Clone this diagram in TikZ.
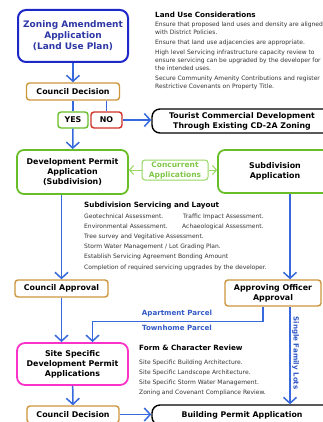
\documentclass[tikz,border=0pt]{standalone}
\usepackage{fontspec}
\setmainfont{DejaVu Sans}
\usetikzlibrary{arrows.meta}
\definecolor{flowblue}{RGB}{55,105,220}
\definecolor{zoneblue}{RGB}{30,40,200}
\definecolor{zonetext}{RGB}{45,55,165}
\definecolor{councilorange}{RGB}{205,150,60}
\definecolor{okgreen}{RGB}{105,190,40}
\definecolor{nored}{RGB}{210,50,40}
\definecolor{concgreen}{RGB}{150,215,95}
\definecolor{sitepink}{RGB}{250,50,200}
\definecolor{parceltext}{RGB}{50,90,200}
\tikzset{
    box/.style={draw, line width=1.4pt, rounded corners=3pt, align=center, inner sep=1pt, font=\fontsize{7.9}{10}\selectfont\bfseries},
    zoning/.style={box, draw=zoneblue, text=zonetext, line width=2pt, rounded corners=8pt, minimum width=110pt, minimum height=52pt, font=\fontsize{9}{11}\selectfont\bfseries},
    council/.style={box, draw=councilorange, minimum width=93pt, minimum height=17pt},
    yesbox/.style={box, draw=okgreen, minimum width=30pt, minimum height=16pt},
    nobox/.style={box, draw=nored, minimum width=31pt, minimum height=16pt},
    outbox/.style={box, draw=black, rounded corners=8pt, font=\fontsize{7.8}{10}\selectfont\bfseries},
    permit/.style={box, draw=okgreen, line width=1.8pt, rounded corners=7pt, minimum width=111pt, minimum height=44pt},
    concurrent/.style={box, draw=concgreen, text=okgreen!85, line width=1pt, minimum width=66pt, minimum height=20pt, font=\fontsize{7.5}{10}\selectfont\bfseries},
    site/.style={box, draw=sitepink, line width=1.8pt, rounded corners=8pt, minimum width=111pt, minimum height=42pt},
    % Notes
    notetitle/.style={anchor=west, inner sep=0pt, font=\fontsize{7.2}{8}\selectfont\bfseries},
    note/.style={anchor=north west, inner sep=0pt, align=left, text=black!80},
    parcel/.style={inner sep=0pt, text=parceltext, font=\fontsize{7.1}{8}\selectfont\bfseries},
    % Connectors
    link/.style={draw=flowblue, line width=1.5pt},
    flow/.style={link, -{Straight Barb[length=6pt,width=13pt]}},
    cflow/.style={draw=concgreen, line width=1pt, -{Straight Barb[length=4pt,width=9pt]}}
}
\begin{document}
\begin{tikzpicture}[x=1pt, y=-1pt]
\clip (0,0) rectangle (323,422);
\fill[white] (0,0) rectangle (323,422);

% Rezoning stage
\node[zoning] (zone) at (73,36) {Zoning Amendment\\Application\\(Land Use Plan)};
\node[council] (cd1) at (73,91.5) {Council Decision};
\node[yesbox] (yes) at (73,120) {YES};
\node[nobox] (no) at (106.5,120) {NO};
\node[outbox, minimum width=180pt, minimum height=24pt] (tourist) at (242,121) {Tourist Commercial Development\\Through Existing CD-2A Zoning};

% Development permit / subdivision
\node[permit] (devp) at (72.5,172) {Development Permit\\Application\\(Subdivision)};
\node[concurrent] (conc) at (175,170) {Concurrent\\Applications};
\node[permit, minimum width=114pt, minimum height=43pt] (subd) at (275,171.5) {Subdivision\\Application};

% Approvals
\node[council] (capp) at (61.5,288.5) {Council Approval};
\node[council, minimum width=96pt, minimum height=26pt] (aoa) at (273,293) {Approving Officer\\Approval};

% Site specific stage
\node[site] (ssdp) at (72.5,364) {Site Specific\\Development Permit\\Applications};
\node[council, minimum width=92pt] (cd2) at (73,414.5) {Council Decision};
\node[outbox, minimum width=180pt, minimum height=20pt] (bpa) at (242,415) {Building Permit Application};

% Notes
\node[notetitle] (lutitle) at (155,15) {Land Use Considerations};
\node[note, font=\fontsize{6}{8}\selectfont] (lubody) at (155,21.3) {Ensure that proposed land uses and density are aligned\\with District Policies.\\[2pt]Ensure that land use adjacencies are appropriate.\\[2pt]High level Servicing infrastructure capacity review to\\ensure servicing can be upgraded by the developer for\\the intended uses.\\[2pt]Secure Community Amenity Contributions and register\\Restrictive Covenants on Property Title.};

\node[notetitle] (svtitle) at (84,206) {Subdivision Servicing and Layout};
\node[note, font=\fontsize{6}{10.2}\selectfont] (svbody) at (84,213.3) {\makebox[99pt][l]{Geotechnical Assessment.}Traffic Impact Assessment.\\\makebox[98pt][l]{Environmental Assessment.}Achaeological Assessment.\\Tree survey and Vegitative Assessment.\\Storm Water Management / Lot Grading Plan.\\Establish Servicing Agreement Bonding Amount\\Completion of required servicing upgrades by the developer.};

\node[notetitle] (fctitle) at (139,348) {Form \& Character Review};
\node[note, font=\fontsize{6}{10}\selectfont] (fcbody) at (139,359.3) {Site Specific Building Architecture.\\Site Specific Landscope Architecture.\\Site Specific Storm Water Management.\\Zoning and Covenant Compliance Review.};

% Connections
\draw[flow] (zone) -- (cd1);
\draw[link] (cd1) -- (yes);
\draw[link] (cd1.south -| no.north) -- (no.north);
\draw[flow] (no.east) -- (no.east -| tourist.west);
\draw[flow] (yes) -- (devp);
\draw[cflow] (conc.west) -- (conc.west -| devp.east);
\draw[cflow] (conc.east) -- (conc.east -| subd.west);
\draw[flow] (devp.south -| capp.north) -- (capp.north);
\draw[flow] ([xshift=15pt]subd.south) -- ([xshift=15pt]subd.south |- aoa.north);
\draw[flow] (capp.south) -- (capp.south |- ssdp.north);
\draw[flow] ([xshift=-10pt]aoa.south) -- ++(0,15) -| ([xshift=20pt]ssdp.north);
\draw[flow] ([xshift=17pt]aoa.south) -- ([xshift=17pt]aoa.south |- bpa.north);
\draw[flow] (ssdp) -- (cd2);
\draw[flow] (cd2.east) -- (cd2.east -| bpa.west);

% Route labels
\node[parcel] (apt) at (177,314) {Apartment Parcel};
\node[parcel] (town) at (177,327.5) {Townhome Parcel};
\node[parcel, rotate=-90, anchor=south] (sfl) at (292,353) {Single Family Lots};
\end{tikzpicture}
\end{document}
